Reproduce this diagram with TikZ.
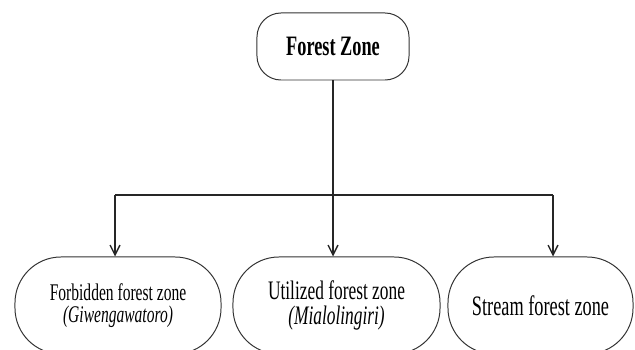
\documentclass[tikz,border=0pt]{standalone}
\usepackage{fontspec}
\setmainfont[FakeStretch=0.65]{Liberation Serif}
\usetikzlibrary{arrows.meta}
\tikzset{
  zone/.style={draw=black!80, line width=0.7pt, rounded corners=1.15cm, align=center, inner sep=0pt, minimum height=2.425cm},
  link/.style={draw=black!85, line width=1pt},
  tip/.style={-{Straight Barb[length=7pt,width=7pt]}},
}

\begin{document}
\begin{tikzpicture}[x=0.025cm,y=0.025cm]
	\useasboundingbox (0,0) rectangle (635,349);
	%TOP BOX
	\node[zone, rounded corners=0.6cm, minimum width=3.8cm, minimum height=1.675cm, font=\fontsize{20}{20}\selectfont\bfseries] (forest) at (333,302.5) {Forest Zone};
	%BOTTOM BOXES
	\node[zone, minimum width=5.15cm, font=\fontsize{17}{15.5}\selectfont] (forbidden) at (118,43.5) {Forbidden forest zone\\\textit{(Giwengawatoro)}};
	\node[zone, minimum width=5.175cm, font=\fontsize{19}{17.5}\selectfont] (utilized) at (336.5,43.5) {Utilized forest zone\\\textit{(Mialolingiri)}};
	\node[zone, minimum width=4.625cm, font=\fontsize{20}{20}\selectfont] (stream) at (540.5,43.5) {Stream forest zone};
	%LINES
	\coordinate (j) at (forest.south |- 0,154);
	\coordinate (jl) at (115,154);
	\coordinate (jr) at (553,154);
	\draw[link] (forest) -- (j);
	\draw[link] (jl) -- (jr);
	\draw[link,tip] (jl) -- (jl |- forbidden.north);
	\draw[link,tip] (j) -- (j |- utilized.north);
	\draw[link,tip] (jr) -- (jr |- stream.north);
\end{tikzpicture}
\end{document}
